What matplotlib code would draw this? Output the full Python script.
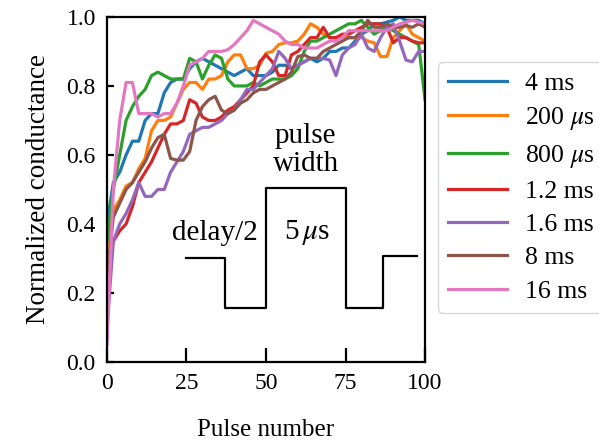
#!/usr/bin/env python3
import matplotlib
matplotlib.use("Agg")
import matplotlib.pyplot as plt
import numpy as np

pulses = np.arange(0, 101, 2)

labels = ["4 ms", "200 $\\mu$s", "800 $\\mu$s", "1.2 ms", "1.6 ms", "8 ms", "16 ms"]

g_4ms = [0.40, 0.52, 0.55, 0.60, 0.64, 0.64, 0.70, 0.72, 0.72, 0.78, 0.81, 0.82, 0.82,
         0.85, 0.87, 0.88, 0.87, 0.86, 0.85, 0.84, 0.83, 0.84, 0.85, 0.83, 0.83, 0.83,
         0.84, 0.86, 0.86, 0.85, 0.86, 0.87, 0.88, 0.87, 0.88, 0.90, 0.90, 0.91, 0.91,
         0.93, 0.95, 0.96, 0.98, 0.98, 0.985, 0.99, 1.0, 0.99, 0.99, 0.99, 0.98]
g_200us = [0.30, 0.44, 0.47, 0.51, 0.52, 0.56, 0.59, 0.67, 0.70, 0.70, 0.71, 0.75, 0.79,
           0.81, 0.81, 0.79, 0.82, 0.82, 0.83, 0.87, 0.89, 0.89, 0.85, 0.85, 0.86, 0.895,
           0.90, 0.92, 0.925, 0.925, 0.93, 0.95, 0.98, 0.97, 0.95, 0.94, 0.94, 0.94, 0.94,
           0.94, 0.94, 0.93, 0.925, 0.885, 0.885, 0.94, 0.96, 0.98, 0.95, 0.94, 0.93]
g_800us = [0.35, 0.50, 0.60, 0.70, 0.74, 0.77, 0.79, 0.83, 0.84, 0.83, 0.82, 0.82, 0.82,
           0.88, 0.87, 0.82, 0.86, 0.89, 0.88, 0.82, 0.80, 0.80, 0.80, 0.81, 0.80, 0.81,
           0.82, 0.82, 0.82, 0.83, 0.85, 0.90, 0.93, 0.93, 0.94, 0.95, 0.96, 0.97, 0.98,
           0.98, 0.99, 0.97, 0.95, 0.96, 0.97, 0.96, 0.95, 0.94, 0.93, 0.92, 0.76]
g_1_2ms = [0.28, 0.35, 0.38, 0.40, 0.45, 0.52, 0.55, 0.58, 0.62, 0.66, 0.69, 0.69, 0.70,
           0.76, 0.75, 0.71, 0.70, 0.70, 0.71, 0.73, 0.74, 0.76, 0.78, 0.80, 0.87, 0.89,
           0.87, 0.83, 0.83, 0.89, 0.90, 0.92, 0.94, 0.94, 0.97, 0.94, 0.94, 0.95, 0.95,
           0.96, 0.97, 0.98, 0.98, 0.98, 0.97, 0.925, 0.94, 0.94, 0.93, 0.925, 0.925]
g_1_6ms = [0.10, 0.35, 0.40, 0.43, 0.47, 0.52, 0.48, 0.48, 0.50, 0.50, 0.55, 0.58, 0.61,
           0.66, 0.67, 0.68, 0.68, 0.69, 0.70, 0.72, 0.73, 0.76, 0.79, 0.79, 0.81, 0.83,
           0.85, 0.90, 0.88, 0.85, 0.86, 0.87, 0.88, 0.88, 0.88, 0.875, 0.83, 0.89, 0.91,
           0.92, 0.95, 0.91, 0.90, 0.94, 0.97, 0.98, 0.93, 0.875, 0.87, 0.90, 0.90]
g_8ms = [0.25, 0.42, 0.46, 0.50, 0.52, 0.55, 0.58, 0.62, 0.65, 0.66, 0.59, 0.585, 0.585,
         0.61, 0.70, 0.74, 0.76, 0.77, 0.73, 0.72, 0.73, 0.75, 0.76, 0.78, 0.79, 0.79,
         0.80, 0.81, 0.82, 0.84, 0.885, 0.89, 0.88, 0.88, 0.90, 0.91, 0.92, 0.93, 0.94,
         0.94, 0.96, 0.99, 0.97, 0.97, 0.98, 0.97, 0.97, 0.975, 0.97, 0.98, 0.97]
g_16ms = [0.05, 0.50, 0.70, 0.81, 0.81, 0.72, 0.72, 0.72, 0.71, 0.72, 0.72, 0.75, 0.80,
          0.86, 0.87, 0.88, 0.90, 0.90, 0.90, 0.905, 0.92, 0.94, 0.96, 0.99, 0.98, 0.97,
          0.96, 0.95, 0.93, 0.92, 0.92, 0.91, 0.91, 0.91, 0.92, 0.93, 0.93, 0.94, 0.96,
          0.96, 0.96, 0.96, 0.96, 0.96, 0.96, 0.97, 0.98, 0.985, 0.99, 0.985, 0.98]

series = [g_4ms, g_200us, g_800us, g_1_2ms, g_1_6ms, g_8ms, g_16ms]

# pulse sketch drawn inside the axes
sketch_x = [25, 37, 37, 50, 50, 75, 75, 86.7, 86.7, 97.5]
sketch_y = [0.30, 0.30, 0.157, 0.157, 0.505, 0.505, 0.157, 0.157, 0.307, 0.307]


def main():
    plt.rcParams["font.family"] = ["Liberation Serif", "DejaVu Serif"]
    plt.rcParams["mathtext.fontset"] = "stix"

    fig = plt.figure(figsize=(5.99, 4.43), dpi=100)
    ax = fig.add_axes([0.1786, 0.1828, 0.531, 0.779])

    for vals, lab in zip(series, labels):
        ax.plot(pulses, vals, linewidth=2.3, label=lab)

    ax.plot(sketch_x, sketch_y, color="black", linewidth=1.6)
    ax.text(62.5, 0.615, "pulse\nwidth", ha="center", va="center", fontsize=21, linespacing=1.1)
    ax.text(34, 0.375, "delay/2", ha="center", va="center", fontsize=21)
    ax.text(63, 0.375, "5$\\,\\mu$s", ha="center", va="center", fontsize=21)

    ax.set_xlim(0, 100)
    ax.set_ylim(0, 1.0)
    ax.set_xticks([0, 25, 50, 75, 100])
    ax.set_yticks([0, 0.2, 0.4, 0.6, 0.8, 1.0])
    ax.tick_params(axis="both", direction="in", labelsize=17, width=1.6)
    ax.tick_params(axis="x", length=10, pad=8)
    ax.tick_params(axis="y", length=5, pad=8)
    for sp in ax.spines.values():
        sp.set_linewidth(1.6)

    ax.set_xlabel("Pulse number", fontsize=18, labelpad=18)
    ax.set_ylabel("Normalized conductance", fontsize=19.5, labelpad=11)

    ax.legend(loc="upper left", bbox_to_anchor=(1.04, 0.87), borderaxespad=0,
              fontsize=18.5, handlelength=2.3, labelspacing=0.4, handletextpad=0.7)

    fig.savefig("out.png", dpi=100)


if __name__ == '__main__':
    main()
